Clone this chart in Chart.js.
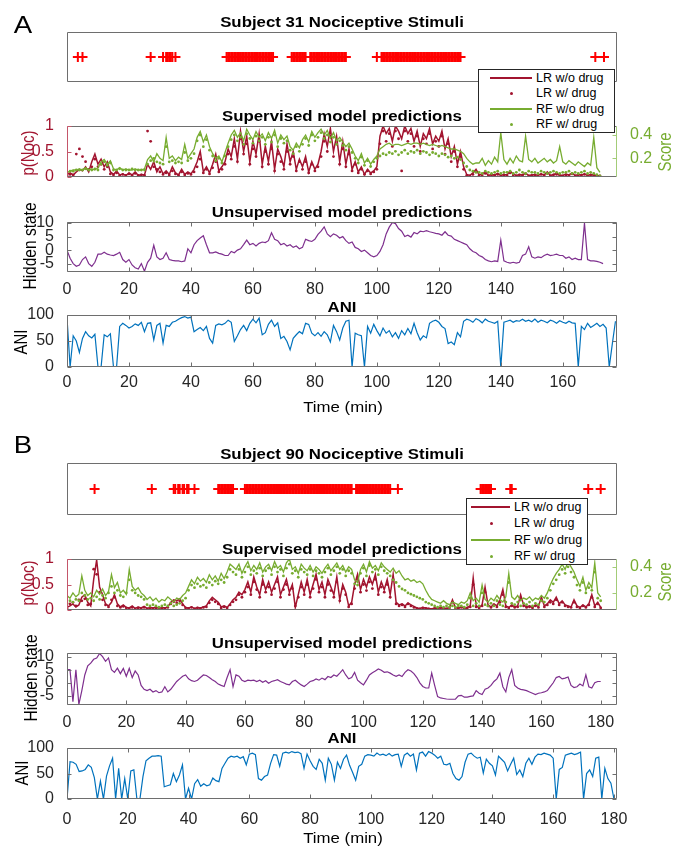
<!DOCTYPE html>
<html>
<head>
<meta charset="utf-8">
<script src="https://cdn.jsdelivr.net/npm/chart.js@4.4.1/dist/chart.umd.min.js"></script>
<style>
  body { margin: 0; background: #fff; }
  #fig { position: relative; width: 680px; height: 847px; overflow: hidden;
         font-family: "Liberation Sans", Arial, Helvetica, sans-serif; color: #000; }
  #fig canvas { position: absolute; left: 0; }
  .t { position: absolute; white-space: nowrap; line-height: 1; }
  .leg { position: absolute; background: #fff; border: 1px solid #262626; z-index: 5; }
</style>
</head>
<body>
<div id="fig"></div>
<script>
// ---------- data (one value per minute unless noted) ----------
const legendLabels = ['LR w/o drug', 'LR w/ drug', 'RF w/o drug', 'RF w/ drug'];

// stimulus times (min)
const stimTimesA = [3.5, 5, 27, 31, 32, 32.5, 33, 33.5, 34, 35,
  51.5, 52, 52.5, 53, 53.5, 54, 54.5, 55, 55.5, 56, 56.5, 57, 57.5, 58, 58.5, 59, 59.5, 60, 60.5, 61, 61.5, 62, 62.5, 63, 63.5, 64, 64.5, 65, 65.5, 66, 66.5,
  72.5, 73, 73.5, 74, 74.5, 75, 75.5, 76, 76.5, 77,
  78.5, 79, 79.5, 80, 80.5, 81, 81.5, 82, 82.5, 83, 83.5, 84, 84.5, 85, 85.5, 86, 86.5, 87, 87.5, 88, 88.5, 89, 89.5, 90,
  100, 101.5, 102, 102.5, 103, 103.5, 104, 104.5, 105, 105.5, 106, 106.5, 107, 107.5, 108, 108.5, 109, 109.5, 110, 110.5, 111, 111.5, 112, 112.5,
  113, 113.5, 114, 114.5, 115, 115.5, 116, 116.5, 117, 117.5, 118, 118.5, 119, 119.5, 120, 120.5, 121, 121.5, 122, 122.5, 123, 123.5, 124, 124.5,
  125, 125.5, 126, 126.5, 127,
  170.5, 173.3];
const stimTimesB = [9.3, 28.6, 36, 36.5, 37.5, 38, 39, 39.5, 40.5, 41, 43,
  51, 51.5, 52, 52.5, 53, 53.5, 54, 54.5, 55, 55.5, 56,
  60, 60.5, 61, 61.5, 62, 62.5, 63, 63.5, 64, 64.5, 65, 65.5, 66, 66.5, 67, 67.5, 68, 68.5, 69, 69.5, 70, 70.5, 71, 71.5, 72, 72.5, 73, 73.5,
  74, 74.5, 75, 75.5, 76, 76.5, 77, 77.5, 78, 78.5, 79, 79.5, 80, 80.5, 81, 81.5, 82, 82.5, 83, 83.5, 84, 84.5, 85, 85.5, 86, 86.5, 87, 87.5,
  88, 88.5, 89, 89.5, 90, 90.5, 91, 91.5, 92, 92.5, 93, 93.5, 94, 94.5, 95, 95.5, 96,
  97.5, 98, 98.5, 99, 99.5, 100, 100.5, 101, 101.5, 102, 102.5, 103, 103.5, 104, 104.5, 105, 105.5, 106, 106.5, 107, 107.5, 108, 108.5, 109,
  111.6, 139.5, 140, 140.5, 141, 141.5, 142, 142.5, 143, 149.5, 150, 175.8, 180];

// Subject 31: supervised predictions, t = 0..172 min
const lrLineA = [0.05, 0.08, 0.04, 0.1, 0.15, 0.12, 0.2, 0.1, 0.3, 0.45, 0.25, 0.35, 0.2, 0.3,
  0.1, 0.05, 0.12, 0.04, 0.06, 0.03, 0.08, 0.04, 0.1, 0.03, 0.05, 0.04, 0.25, 0.15, 0.3, 0.1, 0.2,
  0.06, 0.12, 0.05, 0.2, 0.08, 0.04, 0.15, 0.05, 0.1, 0.06, 0.15, 0.3, 0.5, 0.1, 0.2, 0.08, 0.25, 0.45, 0.12, 0.2,
  0.3, 0.55, 0.4, 0.75, 0.35, 0.9, 0.5, 0.8, 0.3, 0.7, 0.45, 0.85, 0.25, 0.6,
  0.3, 0.7, 0.15, 0.55, 0.4, 0.2, 0.65, 0.3, 0.5, 0.15, 0.35, 0.2, 0.4, 0.1, 0.3, 0.15, 0.25, 0.5,
  0.85, 0.6, 0.95, 0.5, 0.8, 0.3, 0.7, 0.25, 0.55, 0.15, 0.3, 0.1, 0.2, 0.05, 0.15, 0.08, 0.12, 0.2,
  0.8, 1.0, 0.85, 0.95, 0.7, 1.0, 0.9, 0.75, 1.0, 0.85, 0.95, 0.7, 0.9, 0.6, 0.85, 0.75, 0.95, 0.65, 0.8, 0.7, 0.9,
  0.55, 0.75, 0.4, 0.6, 0.25, 0.5, 0.2,
  0.05, 0.03, 0.08, 0.15, 0.04, 0.06, 0.1, 0.03, 0.05, 0.04, 0.07, 0.03, 0.05, 0.04, 0.12, 0.06, 0.03, 0.05, 0.04, 0.08, 0.03, 0.04,
  0.05, 0.03, 0.06, 0.04, 0.1, 0.03, 0.05, 0.07, 0.04, 0.03, 0.06, 0.04, 0.08, 0.03, 0.05, 0.04, 0.06, 0.03, 0.05, 0.04, 0.03, 0.02];
const lrDotsA = [0.03, 0.05, 0.04, 0.45, 0.55, 0.4, 0.3, 0.15, 0.2, 0.35, 0.2,
  0.25, 0.15, 0.2, 0.06, 0.04, 0.08, 0.03, 0.05, 0.03, 0.06, 0.03, 0.07, 0.03, 0.04, 0.03,
  0.9, 0.7, 0.2, 0.15, 0.1,
  0.05, 0.08, 0.04, 0.12, 0.06, 0.03, 0.1, 0.04, 0.07, 0.05, 0.1, 0.2, 0.35, 0.08, 0.15, 0.06, 0.18, 0.3, 0.1, 0.15,
  0.25, 0.45, 0.35, 0.6, 0.3, 0.75, 0.45, 0.65, 0.25, 0.55, 0.4, 0.7, 0.2, 0.5,
  0.25, 0.55, 0.12, 0.45, 0.3, 0.15, 0.5, 0.25, 0.4, 0.12, 0.3, 0.15, 0.3, 0.08, 0.25, 0.12, 0.2, 0.4,
  0.7, 0.5, 0.8, 0.4, 0.65, 0.25, 0.55, 0.2, 0.45, 0.12, 0.25, 0.08, 0.15, 0.05, 0.12, 0.06, 0.1, 0.15,
  0.65, 0.9, 0.7, 0.85, 0.6, 0.9, 0.75, 0.12, 0.9, 0.7, 0.85, 0.6, 0.8, 0.5, 0.75, 0.65, 0.85, 0.55, 0.7, 0.6, 0.8, 0.45, 0.65, 0.3, 0.5, 0.2, 0.4, 0.15,
  0.03, 0.02, 0.05, 0.1, 0.03, 0.04, 0.07, 0.02, 0.04, 0.03, 0.05, 0.02, 0.04, 0.03, 0.08, 0.04, 0.02, 0.04, 0.03, 0.06, 0.02, 0.03,
  0.04, 0.02, 0.05, 0.03, 0.07, 0.02, 0.04, 0.05, 0.03, 0.02, 0.04, 0.03, 0.06, 0.02, 0.04, 0.03, 0.05, 0.02, 0.04, 0.03, 0.02, 0.02];
const rfLineA = [0.08, 0.09, 0.1, 0.1, 0.11, 0.1, 0.12, 0.1, 0.11, 0.1, 0.12, 0.17, 0.19, 0.15, 0.18,
  0.11, 0.1, 0.12, 0.1, 0.11, 0.1, 0.1, 0.11, 0.1, 0.1, 0.11, 0.19, 0.22, 0.17, 0.24, 0.2, 0.18,
  0.38, 0.2, 0.22, 0.18, 0.21, 0.19, 0.32, 0.2, 0.24, 0.28, 0.38, 0.43, 0.34, 0.4, 0.3, 0.24, 0.2, 0.22, 0.17,
  0.25, 0.33, 0.4, 0.44, 0.38, 0.42, 0.35, 0.45, 0.4, 0.36, 0.43, 0.38, 0.41,
  0.35, 0.42, 0.37, 0.44, 0.33, 0.4, 0.36, 0.39, 0.3, 0.27, 0.33, 0.29, 0.36,
  0.4, 0.34, 0.43, 0.38, 0.42, 0.45, 0.4, 0.44, 0.37, 0.42, 0.35, 0.38, 0.34, 0.3, 0.33, 0.28,
  0.22, 0.18, 0.24, 0.16, 0.2, 0.15, 0.19, 0.22, 0.28, 0.3, 0.32, 0.33,
  0.31, 0.32, 0.32, 0.31, 0.32, 0.33, 0.32, 0.33, 0.33, 0.32, 0.33, 0.32, 0.31, 0.32, 0.31, 0.3, 0.31, 0.3, 0.29, 0.28, 0.28, 0.27, 0.26,
  0.24, 0.2, 0.17, 0.15, 0.16,
  0.16, 0.2, 0.14, 0.18, 0.15, 0.21, 0.17, 0.42, 0.19, 0.15, 0.2, 0.16, 0.22, 0.18, 0.17, 0.39,
  0.19, 0.17, 0.2, 0.16, 0.18, 0.2, 0.17, 0.19, 0.16, 0.18, 0.3,
  0.17, 0.15, 0.18, 0.16, 0.14, 0.17, 0.15, 0.13, 0.16, 0.14, 0.38, 0.12, 0.08];
const rfDotsA = [0.08, 0.09, 0.09, 0.1, 0.1, 0.1, 0.11, 0.1, 0.1, 0.11, 0.1, 0.15, 0.17, 0.14, 0.16,
  0.1, 0.1, 0.11, 0.1, 0.1, 0.1, 0.11, 0.1, 0.1, 0.1, 0.1, 0.15, 0.18, 0.2, 0.17, 0.16, 0.15,
  0.3, 0.17, 0.18, 0.16, 0.17, 0.16, 0.25, 0.18, 0.2, 0.24, 0.35, 0.4, 0.3, 0.36, 0.27, 0.22, 0.18, 0.2, 0.16,
  0.22, 0.3, 0.36, 0.4, 0.35, 0.38, 0.32, 0.41, 0.37, 0.33, 0.39, 0.35, 0.38,
  0.32, 0.38, 0.34, 0.4, 0.3, 0.37, 0.33, 0.35, 0.27, 0.24, 0.3, 0.26, 0.32,
  0.37, 0.31, 0.4, 0.35, 0.38, 0.42, 0.37, 0.4, 0.34, 0.38, 0.32, 0.35, 0.31, 0.27, 0.3, 0.25, 0.2, 0.16, 0.21, 0.14, 0.18, 0.13, 0.17,
  0.2, 0.22, 0.24, 0.23, 0.25,
  0.24, 0.26, 0.23, 0.25, 0.27, 0.24, 0.26, 0.25, 0.27, 0.24, 0.26, 0.25, 0.23, 0.25, 0.24, 0.22, 0.24, 0.23, 0.21, 0.22, 0.2, 0.21, 0.19,
  0.16, 0.13, 0.1, 0.09, 0.08,
  0.08, 0.07, 0.09, 0.08, 0.07, 0.08, 0.09, 0.07, 0.08, 0.08, 0.09, 0.07, 0.08, 0.1, 0.08, 0.07, 0.09, 0.08, 0.08, 0.07,
  0.09, 0.08, 0.07, 0.08, 0.09, 0.08, 0.07, 0.08, 0.08, 0.09, 0.07, 0.08, 0.07, 0.08, 0.09, 0.07, 0.08, 0.07, 0.06, 0.05];

// Subject 31: hidden state, t = 0..173
const hiddenA = [0, -3, -5, -6, -5.5, -3.5, -2.5, -5, -6, -4.5, -1.5, -1.5, -0.8, -1.5, -1.8, -2, -1.5, -0.8, -3.5, -4.5,
  -3.5, -5.5, -6.5, -7, -5, -7.8, -4.5, -3, 1.8, -2.5, -3.5, -3, -1, -3.5, -3.8, -4, -4, -4.3, -4, 0.5,
  -1, 2, 3.5, 4.5, 5.3, 2, -1, -1, -0.7, -1.2, -1.5, -2, -2, -0.5, -1, 0, 0.5, 2, 3.7, 2,
  2.5, 1.5, 2.5, 3, 2.8, 3.5, 6.4, 4, 3.5, 2, 2.5, 1.5, 2, 1, 1.5, 0.5, 1, 4, 3.5, 3.2,
  4, 5.8, 7, 8.6, 6, 5, 6, 5.5, 4.5, 5, 3.5, 2.5, 3, 1, 0.5, -0.5, 0, -1, -2, -2.5,
  -2, -0.5, 2, 6, 8.5, 10.2, 9.8, 8, 7, 5, 5.5, 4.8, 6.5, 6, 7, 6.8, 7.2, 6.8, 6.5, 6.2,
  6, 5.5, 6.8, 5.5, 5.2, 4, 3.5, 3, 2.5, 2, 0.5, -0.5, -1, -2, -2.5, -3.5, -4, -4.3, -4, -4.2,
  3.7, -4, -4.5, -4.8, -4.5, -4.8, -4.5, -2, -1.5, 1.2, -2.5, -3, -2.5, -2.8, -2, -1.5, -2, -1.8, -1.5, -2,
  -2, -3, -2.5, -3.5, -3, -3.5, -3.5, 10, -3.5, -4, -4, -4.2, -4.5, -5];

// Subject 31: ANI, t = 0..177
const aniA = [95, 0, 60, 50, 28, 55, 68, 60, 56, 63, 0, 0, 62, 58, 64, 0, 0, 78, 84, 80,
  75, 78, 83, 80, 86, 68, 84, 85, 52, 80, 84, 46, 80, 78, 86, 88, 92, 95, 97, 94,
  96, 68, 72, 76, 70, 78, 55, 46, 80, 83, 81, 84, 90, 86, 49, 60, 72, 80, 70, 84,
  92, 85, 94, 62, 66, 82, 90, 78, 85, 55, 59, 49, 33, 55, 62, 68, 64, 84, 82, 65,
  60, 66, 59, 68, 62, 48, 80, 68, 52, 75, 88, 90, 0, 65, 62, 60, 0, 78, 65, 82,
  70, 60, 75, 65, 70, 58, 66, 55, 70, 62, 74, 64, 84, 66, 52, 60, 56, 84, 88, 90,
  86, 78, 74, 45, 48, 43, 66, 58, 88, 92, 90, 86, 93, 90, 85, 92, 88, 86, 84, 88,
  0, 86, 88, 90, 86, 89, 88, 92, 88, 90, 87, 92, 86, 90, 88, 85, 90, 88, 84, 89,
  86, 84, 88, 85, 84, 0, 78, 72, 84, 76, 80, 84, 78, 82, 75, 0, 45, 88];

// Subject 90: supervised predictions, t = 0..180
const lrLineB = [0.05, 0.08, 0.12, 0.06, 0.1, 0.25, 0.3, 0.15, 0.08, 0.6, 0.98, 0.45, 0.3, 0.12, 0.08, 0.15,
  0.3, 0.12, 0.06, 0.1, 0.05, 0.04, 0.08, 0.03, 0.06, 0.04, 0.07, 0.03, 0.05, 0.04, 0.06, 0.03, 0.05, 0.04, 0.06,
  0.15, 0.2, 0.18, 0.22, 0.12, 0.05, 0.04, 0.06, 0.03, 0.05, 0.04, 0.06, 0.08, 0.18, 0.25, 0.2, 0.15, 0.06,
  0.08, 0.05, 0.12, 0.2, 0.25, 0.35, 0.3, 0.4,
  0.55, 0.35, 0.65, 0.45, 0.3, 0.6, 0.4, 0.55, 0.35, 0.5, 0.65, 0.3, 0.45, 0.6, 0.35, 0.5, 0.05, 0.3,
  0.55, 0.35, 0.6, 0.3, 0.5, 0.7, 0.4, 0.55, 0.3, 0.6, 0.45, 0.3, 0.65, 0.2, 0.5, 0.35, 0.08, 0.15,
  0.5, 0.7, 0.4, 0.6, 0.45, 0.65, 0.5, 0.7, 0.35, 0.55, 0.4, 0.6, 0.3, 0.7, 0.15, 0.1, 0.12, 0.08, 0.14, 0.1, 0.07,
  0.04, 0.03, 0.05, 0.04, 0.03, 0.02, 0.04, 0.03, 0.05, 0.04, 0.03, 0.05, 0.2, 0.05, 0.04, 0.06, 0.03, 0.05, 0.08,
  0.63, 0.08, 0.05, 0.1, 0.45, 0.1, 0.06, 0.12, 0.08, 0.2, 0.4, 0.08, 0.05, 0.1, 0.06, 0.08, 0.3,
  0.1, 0.06, 0.08, 0.05, 0.1, 0.07, 0.25, 0.08, 0.12, 0.2, 0.15, 0.25, 0.12, 0.18, 0.1, 0.08,
  0.06, 0.2, 0.08, 0.05, 0.1, 0.06, 0.12, 0.3, 0.08, 0.15, 0.05];
const lrDotsB = [0.03, 0.12, 0.15, 0.08, 0.2, 0.18, 0.22, 0.1, 0.12, 0.8, 0.7,
  0.35, 0.2, 0.1, 0.06, 0.2, 0.25, 0.08, 0.05, 0.07, 0.04,
  0.03, 0.05, 0.02, 0.04, 0.03, 0.05, 0.02, 0.04, 0.03, 0.04, 0.02, 0.04, 0.03, 0.05, 0.12, 0.16, 0.14, 0.18, 0.1, 0.04,
  0.03, 0.05, 0.02, 0.04, 0.03, 0.05, 0.06, 0.14, 0.2, 0.16, 0.12, 0.04, 0.06, 0.04, 0.1, 0.16, 0.2, 0.3, 0.25, 0.35,
  0.45, 0.3, 0.55, 0.4, 0.25, 0.5, 0.35, 0.45, 0.3, 0.42, 0.55, 0.25, 0.4, 0.5, 0.3, 0.42, 0.08, 0.25, 0.45, 0.3,
  0.5, 0.25, 0.42, 0.6, 0.35, 0.45, 0.25, 0.5, 0.38, 0.25, 0.55, 0.18, 0.42, 0.3, 0.06, 0.12, 0.42, 0.6, 0.35, 0.5,
  0.38, 0.55, 0.42, 0.6, 0.3, 0.45, 0.35, 0.5, 0.25, 0.6, 0.12, 0.08, 0.1, 0.06, 0.12, 0.08, 0.05, 0.03, 0.02, 0.04,
  0.03, 0.02, 0.01, 0.03, 0.02, 0.04, 0.03, 0.02, 0.04, 0.15, 0.04, 0.03, 0.05, 0.02, 0.04, 0.06, 0.5, 0.06, 0.04, 0.08,
  0.35, 0.08, 0.05, 0.1, 0.06, 0.15, 0.3, 0.06, 0.04, 0.08, 0.05, 0.06, 0.22, 0.08, 0.05, 0.06, 0.04, 0.08, 0.05, 0.2,
  0.06, 0.1, 0.15, 0.12, 0.2, 0.1, 0.15, 0.08, 0.06, 0.05, 0.15, 0.06, 0.04, 0.08, 0.05, 0.1, 0.25, 0.06, 0.12, 0.04];
const rfLineB = [0.18, 0.16, 0.2, 0.17, 0.19, 0.33, 0.22, 0.18, 0.2, 0.17, 0.22, 0.19, 0.23, 0.18, 0.21, 0.34,
  0.24, 0.28, 0.2, 0.22, 0.19, 0.38, 0.25, 0.22, 0.24, 0.2, 0.18,
  0.15, 0.17, 0.14, 0.16, 0.13, 0.15, 0.14, 0.17, 0.15, 0.13, 0.16, 0.15, 0.18, 0.2,
  0.25, 0.3, 0.27, 0.32, 0.29, 0.31, 0.28, 0.34, 0.3, 0.33, 0.29, 0.35, 0.31, 0.36, 0.42, 0.4,
  0.38, 0.42, 0.35, 0.4, 0.44, 0.37, 0.41, 0.38, 0.43, 0.36, 0.4, 0.42, 0.37, 0.44, 0.39, 0.41, 0.36,
  0.43, 0.46, 0.38, 0.4, 0.35, 0.42, 0.39, 0.37, 0.41, 0.36, 0.4, 0.38, 0.35, 0.39, 0.42, 0.37, 0.4,
  0.43, 0.38, 0.41, 0.36, 0.4, 0.38, 0.3, 0.28,
  0.38, 0.42, 0.36, 0.44, 0.39, 0.41, 0.37, 0.43, 0.4, 0.38, 0.36, 0.39, 0.35, 0.37,
  0.33, 0.3, 0.31, 0.29, 0.3, 0.28, 0.29, 0.27, 0.22, 0.18, 0.15, 0.14,
  0.13, 0.12, 0.14, 0.12, 0.11, 0.13, 0.12, 0.11, 0.13, 0.12, 0.14,
  0.2, 0.14, 0.16, 0.13, 0.26, 0.15, 0.13, 0.16, 0.14, 0.18, 0.15, 0.13, 0.17, 0.35,
  0.17, 0.15, 0.18, 0.14, 0.16, 0.15, 0.17, 0.14, 0.16, 0.15, 0.18, 0.16, 0.2,
  0.26, 0.31, 0.35, 0.38, 0.42, 0.38, 0.44, 0.4, 0.36, 0.3, 0.25, 0.32, 0.22, 0.28, 0.24, 0.43, 0.2, 0.17];
const rfDotsB = [0.12, 0.14, 0.13, 0.15, 0.14, 0.2, 0.18, 0.15, 0.16, 0.14, 0.17,
  0.15, 0.18, 0.16, 0.2, 0.25, 0.2, 0.22, 0.18, 0.17, 0.2,
  0.3, 0.22, 0.2, 0.18, 0.17, 0.15, 0.11, 0.1, 0.11, 0.1, 0.09, 0.1, 0.11, 0.1, 0.12, 0.1, 0.11, 0.12, 0.14, 0.16,
  0.22, 0.26, 0.24, 0.27, 0.25, 0.26, 0.24, 0.28, 0.26, 0.29, 0.27, 0.3, 0.28, 0.32, 0.38, 0.36, 0.34, 0.38, 0.32, 0.36,
  0.4, 0.34, 0.37, 0.35, 0.39, 0.33, 0.37, 0.39, 0.34, 0.4, 0.36, 0.38, 0.33, 0.39, 0.42, 0.35, 0.37, 0.32, 0.38, 0.36,
  0.34, 0.38, 0.33, 0.37, 0.35, 0.32, 0.36, 0.39, 0.34, 0.37, 0.4, 0.35, 0.38, 0.33, 0.37, 0.35, 0.27, 0.26, 0.35, 0.39,
  0.33, 0.41, 0.36, 0.38, 0.34, 0.4, 0.37, 0.35, 0.33, 0.3, 0.28, 0.25, 0.23, 0.22, 0.2, 0.19, 0.18, 0.17, 0.16, 0.15,
  0.13, 0.12, 0.11, 0.1, 0.09, 0.1, 0.09, 0.1, 0.09, 0.1, 0.09, 0.1, 0.1, 0.09, 0.11, 0.16, 0.1, 0.12, 0.1, 0.2,
  0.11, 0.1, 0.12, 0.1, 0.14, 0.11, 0.1, 0.13, 0.28, 0.12, 0.11, 0.13, 0.1, 0.12, 0.11, 0.13, 0.1, 0.12, 0.11, 0.14,
  0.13, 0.16, 0.22, 0.27, 0.3, 0.34, 0.38, 0.35, 0.4, 0.36, 0.32, 0.26, 0.22, 0.28, 0.2, 0.24, 0.22, 0.36, 0.16, 0.14];

// Subject 90: hidden state, t = 0..180
const hiddenB = [5, 5, -7.2, 5, -8.3, -3, 3, 6.5, 7.5, 9, 9.5, 11.2, 10, 8.2, 9.5, 5, 4, 5.6, 3.5, 5.5,
  2.5, 5.5, 2, 4.5, 3, -1, -2.5, -3, -2.5, -3.5, -3, -3.8, -3.5, -1.5, -3.5, -2.5, -1, 0.5, 1.5, 2.5,
  3, 1.5, 0.8, 0.5, 1, 2, 3, 2.8, 2, 1.2, 0.5, -0.5, -1, -1.4, 2, 5, -1.5, 3, 2.5, 1,
  0.5, 1, 0.8, 1, 0.5, 1, 0.2, 0.8, -0.2, 0.5, 0.8, 1.2, 0.5, 0, -0.5, -0.8, 0.5, 1, 0, -0.8,
  -1.4, -0.5, 0.5, 0.8, 1.5, 1, 1.8, 1.2, 2.4, 2, 3, 2.5, 3.7, 5, 3, 1.5, 2, 4, 1, 0,
  -0.8, 1, 3, 3.8, 4.5, 5.3, 4.8, 4, 4.2, 3.7, 3, 2.5, 3, 2.4, 4, 5, 4.5, 3.5, 2, 0,
  -1.4, -2, -2, 3.7, -1, -5.3, -5.8, -6, -6.2, -6.3, -6.3, -6.3, -5, -4.8, -5.5, -5.5, -5.2, -5, -3, -4,
  -4.5, -2.5, -2, -1, 0.5, 1.5, 3.7, -1.5, -3.5, 2, 5, -1, -2, -2.5, -2.7, -3, -3.5, -4, -4.5, -4,
  -3.8, -3.5, -3, -1.5, 0, 2, 2.4, 1.5, 1.8, 2.2, -1, -1.8, -1.5, -0.5, -1.2, 3, -1.5, -2, 0, 0.5, 0.5];

// Subject 90: ANI, t = 0..180
const aniB = [0, 73, 72, 68, 54, 55, 58, 67, 62, 42, 0, 35, 0, 45, 65, 80, 0, 60, 0, 40,
  0, 55, 57, 0, 0, 44, 75, 80, 84, 84, 85, 84, 24, 26, 28, 50, 34, 47, 67, 0,
  21, 0, 30, 38, 25, 30, 26, 28, 41, 36, 34, 60, 70, 80, 84, 82, 84, 80, 83, 67,
  88, 90, 87, 40, 37, 44, 47, 70, 87, 86, 64, 90, 92, 90, 93, 91, 92, 89, 60, 88,
  75, 64, 58, 78, 70, 37, 80, 68, 37, 72, 60, 78, 86, 66, 52, 37, 64, 68, 84, 87,
  86, 84, 90, 86, 88, 85, 89, 84, 87, 88, 64, 86, 90, 84, 88, 57, 90, 92, 84, 93,
  90, 86, 80, 84, 68, 67, 70, 50, 40, 37, 44, 72, 88, 90, 84, 80, 82, 51, 78, 70,
  65, 47, 84, 78, 72, 55, 68, 80, 48, 57, 44, 70, 80, 68, 82, 88, 87, 90, 88, 86,
  80, 0, 58, 62, 86, 88, 90, 87, 89, 92, 0, 50, 57, 44, 80, 82, 0, 60, 40, 31, 0];

// ---------- drawing ----------
const RED = '#A2142F', GREEN = '#77AC30', PURPLE = '#7E2F8E', BLUE = '#0072BD', AX = '#262626';
Chart.defaults.font.family = '"Liberation Sans", Arial, Helvetica, sans-serif';
Chart.defaults.font.size = 16;
Chart.defaults.color = AX;

// MATLAB-like box with inward ticks
const matBox = {
  id: 'matBox',
  afterDatasetsDraw(chart, args, o) {
    const { ctx, chartArea: a, scales } = chart;
    const L = Math.round(a.left) + 0.5, R = Math.round(a.right) - 0.5;
    const T = Math.round(a.top) + 0.5, B = Math.round(a.bottom) - 0.5;
    const k = 4, g = '#6e6e6e';
    ctx.save();
    ctx.lineWidth = 1;
    const seg = (x1, y1, x2, y2, c) => {
      ctx.strokeStyle = c; ctx.beginPath(); ctx.moveTo(x1, y1); ctx.lineTo(x2, y2); ctx.stroke();
    };
    seg(L, T, R, T, g); seg(L, B, R, B, g);
    seg(L, T, L, B, o.leftColor || g); seg(R, T, R, B, o.rightColor || g);
    if (o.ticks) {
      scales.x.ticks.forEach(t => {
        const x = Math.round(scales.x.getPixelForValue(t.value)) + 0.5;
        seg(x, B, x, B - k, g); seg(x, T, x, T + k, g);
      });
      scales.y.ticks.forEach(t => {
        const y = Math.round(scales.y.getPixelForValue(t.value)) + 0.5;
        seg(L, y, L + k, y, g); seg(R, y, R - k, y, g);
      });
    }
    if (o.dual) {
      scales.y.ticks.forEach(t => {
        const y = Math.round(scales.y.getPixelForValue(t.value)) + 0.5;
        seg(L, y, L + k, y, o.leftColor);
      });
      scales.y1.ticks.forEach(t => {
        const y = Math.round(scales.y1.getPixelForValue(t.value)) + 0.5;
        seg(R, y, R - k, y, o.rightColor);
      });
    }
    ctx.restore();
  }
};
Chart.register(matBox);

const fig = document.getElementById('fig');
const PAD = 18;

function makeCanvas(top, height) {
  const c = document.createElement('canvas');
  c.width = 680; c.height = height;
  c.style.top = top + 'px';
  fig.appendChild(c);
  return c;
}
const pts = vals => vals.map((v, i) => ({ x: i, y: v }));
const plain = v => String(Number(v.toFixed(2)));

function xScale(max, show, h, pad) {
  return {
    type: 'linear', min: 0, max: max, display: show,
    grid: { display: false }, border: { display: false },
    ticks: { stepSize: 20, includeBounds: false, autoSkip: false, maxRotation: 0, padding: pad || 0, callback: plain },
    afterFit: s => { s.height = h; }
  };
}
function yScale(min, max, step, pos, w, color) {
  return {
    type: 'linear', position: pos, min: min, max: max,
    grid: { display: false }, border: { display: false },
    ticks: { stepSize: step, includeBounds: false, autoSkip: false, padding: 5, color: color || AX, callback: plain },
    afterFit: s => { s.width = w; }
  };
}
const baseOpts = extra => Object.assign({
  responsive: false, animation: false, events: []
}, extra);

function stimChart(top, bottom, times, xmax) {
  new Chart(makeCanvas(top - PAD, bottom - top + 2 * PAD), {
    type: 'scatter',
    data: { datasets: [{ data: times.map(t => ({ x: t, y: 1 })), pointStyle: 'cross', pointRadius: 5,
      borderWidth: 2, borderColor: '#ff0000', backgroundColor: '#ff0000' }] },
    options: baseOpts({
      layout: { padding: { left: 67, right: 63, top: PAD, bottom: PAD } },
      plugins: { legend: { display: false }, tooltip: { enabled: false }, matBox: {} },
      scales: { x: { type: 'linear', min: 0, max: xmax, display: false }, y: { min: 0, max: 2, display: false } }
    })
  });
}

function supChart(top, bottom, xmax, lrLine, lrDots, rfLine, rfDots, sMin, sMax) {
  const line = (d, c, ax, ord, w) => ({ data: pts(d), yAxisID: ax, showLine: true, borderColor: c,
    borderWidth: w, pointRadius: 0, tension: 0, order: ord });
  const dots = (d, c, ax, ord) => ({ data: pts(d), yAxisID: ax, showLine: false, pointRadius: 1.4,
    pointBorderWidth: 0, backgroundColor: c, borderColor: c, order: ord });
  new Chart(makeCanvas(top - PAD, bottom - top + 2 * PAD), {
    type: 'scatter',
    data: { datasets: [
      line(lrLine, RED, 'y', 3, 1.5), dots(lrDots, RED, 'y', 2),
      line(rfLine, GREEN, 'y1', 1, 1.3), dots(rfDots, GREEN, 'y1', 0)
    ] },
    options: baseOpts({
      layout: { padding: { left: 0, right: 0, top: PAD, bottom: PAD } },
      plugins: { legend: { display: false }, tooltip: { enabled: false },
        matBox: { dual: true, leftColor: '#c4566a', rightColor: '#a3cc78' } },
      scales: {
        x: xScale(xmax, false, 0),
        y: yScale(0, 1, 0.5, 'left', 67, RED),
        y1: yScale(sMin, sMax, 0.2, 'right', 63, GREEN)
      }
    })
  });
}

function seriesChart(top, bottom, xmax, vals, color, yMin, yMax, yStep, lblGap) {
  const xh = 26;
  new Chart(makeCanvas(top - PAD, bottom - top + PAD + xh), {
    type: 'scatter',
    data: { datasets: [{ data: pts(vals), showLine: true, borderColor: color, borderWidth: 1.2,
      pointRadius: 0, tension: 0 }] },
    options: baseOpts({
      layout: { padding: { left: 0, right: 63, top: PAD, bottom: 0 } },
      plugins: { legend: { display: false }, tooltip: { enabled: false }, matBox: { ticks: true } },
      scales: {
        x: xScale(xmax, true, xh, lblGap),
        y: yScale(yMin, yMax, yStep, 'left', 67)
      }
    })
  });
}

// text helpers
function txt(s, cx, cy, o) {
  o = o || {};
  const d = document.createElement('div');
  d.className = 't';
  d.textContent = s;
  d.style.left = cx + 'px'; d.style.top = cy + 'px';
  d.style.fontSize = (o.size || 14) + 'px';
  if (o.bold) d.style.fontWeight = 'bold';
  if (o.color) d.style.color = o.color;
  const sx = o.sx || 1.2;
  d.style.transform = 'translate(-50%,-50%)' + (o.rot ? ' rotate(-90deg) scaleY(' + sx + ')' : ' scaleX(' + sx + ')');
  fig.appendChild(d);
}
function legendBox(x, y, w, h, lx1, lx2, tx) {
  const box = document.createElement('div');
  box.className = 'leg';
  box.style.left = x + 'px'; box.style.top = y + 'px';
  box.style.width = (w - 2) + 'px'; box.style.height = (h - 2) + 'px';
  fig.appendChild(box);
  const colors = [RED, RED, GREEN, GREEN];
  legendLabels.forEach((lab, i) => {
    const cy = Math.round((h - 2) * (i + 0.5) / 4);
    const sw = document.createElement('div');
    sw.style.position = 'absolute';
    if (i % 2 === 0) {
      sw.style.left = (lx1 - x) + 'px'; sw.style.top = (cy - 1) + 'px';
      sw.style.width = (lx2 - lx1) + 'px'; sw.style.height = '2px';
    } else {
      const m = Math.round((lx1 + lx2) / 2 - x);
      sw.style.left = (m - 1) + 'px'; sw.style.top = (cy - 1) + 'px';
      sw.style.width = '3px'; sw.style.height = '3px'; sw.style.borderRadius = '50%';
    }
    sw.style.background = colors[i];
    box.appendChild(sw);
    const t = document.createElement('div');
    t.className = 't';
    t.textContent = lab;
    t.style.left = (tx - x) + 'px'; t.style.top = cy + 'px';
    t.style.fontSize = '12.5px';
    t.style.transform = 'translateY(-50%)';
    box.appendChild(t);
  });
}

// ---- panel A ----
stimChart(32, 82, stimTimesA, 177.5);
supChart(126, 177, 177.5, lrLineA, lrDotsA, rfLineA, rfDotsA, 0.04, 0.477);
seriesChart(222, 272, 177.5, hiddenA, PURPLE, -8.1, 10.4, 5, 0);
seriesChart(315, 367, 177.5, aniA, BLUE, 0, 100, 50, -2);

// ---- panel B ----
stimChart(463, 515, stimTimesB, 185.5);
supChart(559, 610, 185.5, lrLineB, lrDotsB, rfLineB, rfDotsB, 0.069, 0.46);
seriesChart(653, 705, 185.5, hiddenB, PURPLE, -8.5, 11.4, 5, 0);
seriesChart(748, 799, 181, aniB, BLUE, 0, 100, 50, 3);

// ---- labels ----
txt('A', 23, 25, { size: 23 });
txt('Subject 31 Nociceptive Stimuli', 342, 22, { bold: true });
txt('Supervised model predictions', 342, 116, { bold: true });
txt('p(Noc)', 27, 153, { size: 15, rot: true, color: RED });
txt('Score', 664, 152, { size: 15, rot: true, color: GREEN });
txt('Unsupervised model predictions', 342, 212, { bold: true });
txt('Hidden state', 30, 246, { size: 15.5, rot: true });
txt('ANI', 342, 307, { bold: true });
txt('ANI', 20, 342, { size: 15, rot: true });
txt('Time (min)', 343, 407, { size: 14 });

txt('B', 23, 445, { size: 23 });
txt('Subject 90 Nociceptive Stimuli', 342, 454, { bold: true });
txt('Supervised model predictions', 342, 549, { bold: true });
txt('p(Noc)', 27, 583, { size: 15, rot: true, color: RED });
txt('Score', 664, 582, { size: 15, rot: true, color: GREEN });
txt('Unsupervised model predictions', 342, 643, { bold: true });
txt('Hidden state', 31, 678, { size: 15.5, rot: true });
txt('ANI', 342, 738, { bold: true });
txt('ANI', 21, 773, { size: 15, rot: true });
txt('Time (min)', 343, 838, { size: 14 });

legendBox(478, 69, 137, 64, 489, 531, 535);
legendBox(466, 498, 122, 67, 470, 509, 513);
</script>
</body>
</html>
